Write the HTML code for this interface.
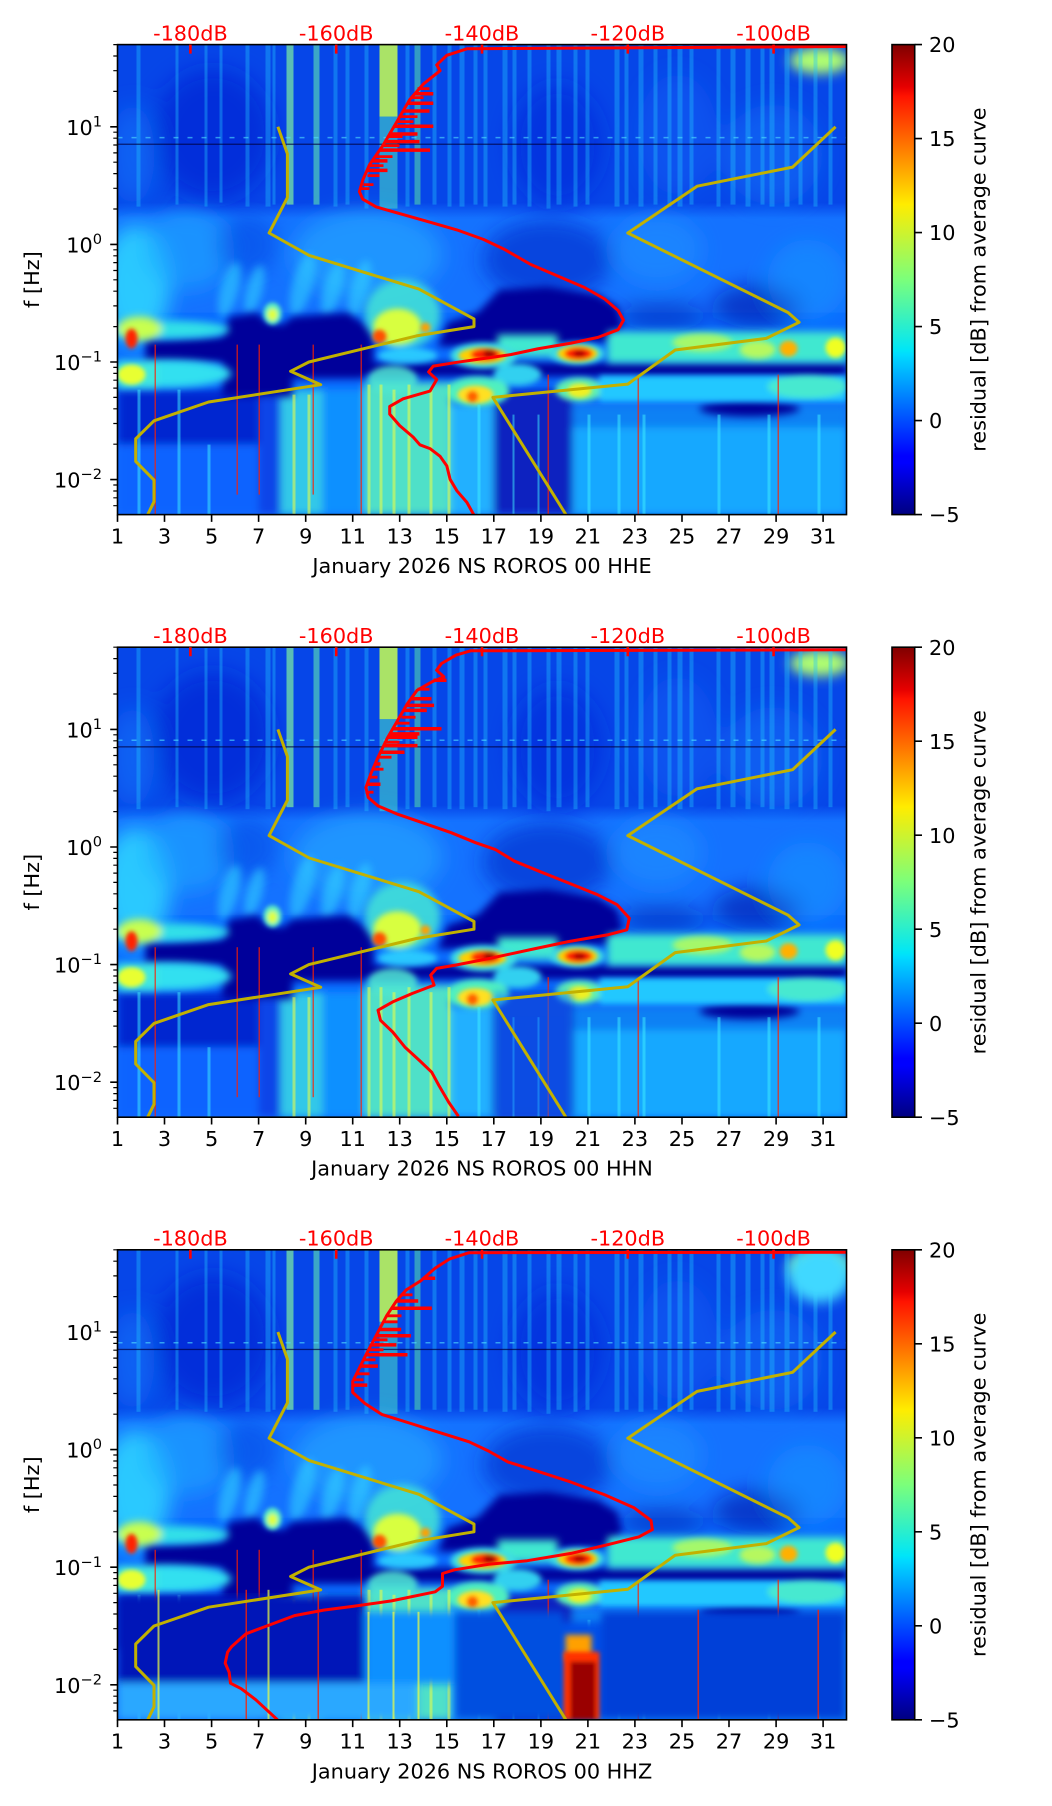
<!DOCTYPE html>
<html><head><meta charset="utf-8"><style>
html,body{margin:0;padding:0;background:#fff;}
svg{display:block;font-family:"DejaVu Sans","Liberation Sans",sans-serif;}
</style></head><body>
<svg width="1052" height="1806" viewBox="0 0 1052 1806" xmlns="http://www.w3.org/2000/svg">
<defs>
<filter id="b2" x="-50%" y="-50%" width="200%" height="200%"><feGaussianBlur stdDeviation="2"/></filter>
<filter id="b3" x="-50%" y="-50%" width="200%" height="200%"><feGaussianBlur stdDeviation="3"/></filter>
<filter id="b4" x="-50%" y="-50%" width="200%" height="200%"><feGaussianBlur stdDeviation="4"/></filter>
<filter id="b6" x="-50%" y="-50%" width="200%" height="200%"><feGaussianBlur stdDeviation="6"/></filter>
<filter id="b10" x="-50%" y="-50%" width="200%" height="200%"><feGaussianBlur stdDeviation="10"/></filter>
<filter id="b12" x="-50%" y="-50%" width="200%" height="200%"><feGaussianBlur stdDeviation="12"/></filter>
<linearGradient id="jet" x1="0" y1="0" x2="0" y2="1">
<stop offset="0" stop-color="#800000"/><stop offset="0.09" stop-color="#e60000"/><stop offset="0.11" stop-color="#ff1300"/>
<stop offset="0.34" stop-color="#ffec00"/><stop offset="0.5" stop-color="#7bff7b"/><stop offset="0.65" stop-color="#00e6f7"/>
<stop offset="0.66" stop-color="#00dbff"/><stop offset="0.875" stop-color="#0000ff"/><stop offset="0.89" stop-color="#0000ff"/>
<stop offset="1" stop-color="#000080"/>
</linearGradient>
<linearGradient id="trans" x1="0" y1="0" x2="0" y2="1">
<stop offset="0" stop-color="#0646e8"/><stop offset="1" stop-color="#1472ff"/>
</linearGradient>
<clipPath id="pc"><rect x="0" y="0" width="729" height="470"/></clipPath>

<g id="base">
<rect width="729" height="470" fill="#0a6cff"/>
<rect width="729" height="160" fill="#0646e8"/>
<rect y="158" width="729" height="16" fill="url(#trans)"/>
<rect y="174" width="729" height="94" fill="#1472ff"/>
<g filter="url(#b12)">
<ellipse cx="95" cy="90" rx="60" ry="65" fill="#0020d0" opacity=".6"/>
<ellipse cx="440" cy="100" rx="45" ry="60" fill="#0024d8" opacity=".5"/>
<ellipse cx="15" cy="110" rx="22" ry="50" fill="#1a80ff" opacity=".5"/>
<ellipse cx="560" cy="90" rx="40" ry="60" fill="#1a70ff" opacity=".3"/>
<ellipse cx="655" cy="110" rx="50" ry="50" fill="#1a80ff" opacity=".4"/>
</g>
<ellipse cx="702" cy="16" rx="30" ry="13" fill="#b0ff70" filter="url(#b6)"/>
<g fill="#22c4ff" opacity=".38">
<rect x="19" width="4" height="162"/><rect x="58" width="3" height="160"/><rect x="87" width="3" height="162"/>
<rect x="102" width="3" height="158"/><rect x="128" width="4" height="162"/><rect x="148" width="5" height="162"/>
<rect x="155" width="3" height="160"/><rect x="216" width="4" height="162"/><rect x="228" width="4" height="160"/>
<rect x="247" width="4" height="164"/><rect x="288" width="4" height="162"/><rect x="315" width="4" height="160"/>
<rect x="330" width="4" height="162"/><rect x="342" width="5" height="162"/><rect x="356" width="4" height="160"/>
<rect x="366" width="4" height="162"/><rect x="385" width="5" height="162"/><rect x="395" width="4" height="160"/>
<rect x="410" width="4" height="162"/><rect x="429" width="4" height="164"/><rect x="439" width="5" height="160"/>
<rect x="456" width="4" height="162"/><rect x="468" width="4" height="160"/><rect x="497" width="5" height="162"/>
<rect x="507" width="4" height="160"/><rect x="521" width="5" height="162"/><rect x="536" width="4" height="160"/>
<rect x="550" width="4" height="162"/><rect x="560" width="5" height="162"/><rect x="572" width="4" height="160"/>
<rect x="599" width="4" height="162"/><rect x="613" width="5" height="160"/><rect x="628" width="5" height="162"/>
<rect x="643" width="4" height="160"/><rect x="652" width="5" height="162"/><rect x="667" width="5" height="162"/>
<rect x="681" width="4" height="160"/><rect x="696" width="4" height="162"/><rect x="711" width="4" height="160"/>
</g>
<rect x="169" width="7" height="160" fill="#80f0a0" opacity=".7"/>
<rect x="196" width="6" height="160" fill="#60e8b0" opacity=".6"/>
<rect x="297" width="6" height="160" fill="#60f0a0" opacity=".5"/>
<rect x="262" width="18" height="72" fill="#c8ff50" opacity=".85"/>
<rect x="262" y="72" width="18" height="92" fill="#50f0c0" opacity=".5"/>
<rect y="99" width="729" height="1.3" fill="#000040" opacity=".7"/>
<line x1="0" y1="93" x2="729" y2="93" stroke="#50e0ff" stroke-width="1.5" stroke-dasharray="5 9" opacity=".6"/>
<g filter="url(#b10)">
<ellipse cx="18" cy="240" rx="35" ry="60" fill="#30d8ff" opacity=".85"/>
<ellipse cx="70" cy="205" rx="45" ry="40" fill="#20a8ff" opacity=".6"/>
<ellipse cx="250" cy="210" rx="75" ry="45" fill="#28b8ff" opacity=".5"/>
<ellipse cx="130" cy="200" rx="30" ry="30" fill="#0a40e0" opacity=".5"/>
<ellipse cx="430" cy="215" rx="65" ry="40" fill="#0028c8" opacity=".6"/>
<ellipse cx="540" cy="205" rx="45" ry="35" fill="#2098ff" opacity=".45"/>
<ellipse cx="640" cy="262" rx="45" ry="22" fill="#0010a8" opacity=".6"/>
<ellipse cx="545" cy="272" rx="45" ry="14" fill="#0010a8" opacity=".5"/>
<ellipse cx="690" cy="235" rx="40" ry="40" fill="#1898ff" opacity=".5"/>
</g>
<g filter="url(#b4)" fill="#30d0ff" opacity=".6">
<ellipse cx="112" cy="245" rx="9" ry="28" transform="rotate(15 112 245)"/>
<ellipse cx="137" cy="245" rx="8" ry="25" transform="rotate(15 137 245)"/>
<ellipse cx="185" cy="240" rx="10" ry="32" transform="rotate(15 185 240)"/>
<ellipse cx="215" cy="245" rx="9" ry="28" transform="rotate(15 215 245)"/>
<ellipse cx="242" cy="245" rx="9" ry="30" transform="rotate(15 242 245)"/>
</g>
<g filter="url(#b4)">
<rect x="0" y="345" width="141" height="55" fill="#0028d0"/>
<rect x="0" y="400" width="163" height="70" fill="#0a64ff"/>
<rect x="141" y="352" width="22" height="118" fill="#0844e8"/>
<rect x="163" y="345" width="42" height="125" fill="#30c8e8"/>
<rect x="205" y="345" width="42" height="125" fill="#1090ff"/>
<rect x="247" y="338" width="86" height="132" fill="#50e0c8"/>
<rect x="333" y="360" width="43" height="110" fill="#20b0ff"/>
<rect x="376" y="345" width="79" height="125" fill="#0820c0"/>
<rect x="455" y="362" width="274" height="108" fill="#14a8ff"/>
<rect x="455" y="358" width="274" height="25" fill="#0a70f0" opacity=".7"/>
</g>
<g filter="url(#b4)" fill="#00049a">
<path d="M28,296 L105,292 L112,272 L140,268 L150,278 L165,280 L175,272 L230,268 L256,285 L256,318 L28,318Z"/>
<path d="M320,302 L330,278 L360,268 L382,245 L430,242 L480,250 L500,262 L505,282 L490,297 L420,301Z"/>
<rect x="240" y="318" width="489" height="14"/>
<rect x="105" y="312" width="70" height="40"/>
<rect x="175" y="312" width="70" height="22"/>
<ellipse cx="632" cy="364" rx="50" ry="8"/>
</g>
<g filter="url(#b4)">
<ellipse cx="50" cy="285" rx="62" ry="9" fill="#30e0e8"/>
<ellipse cx="22" cy="284" rx="22" ry="12" fill="#c8ff50"/>
<ellipse cx="285" cy="270" rx="38" ry="35" fill="#40e0d8" opacity=".9"/>
<rect x="490" y="287" width="239" height="31" fill="#40e8d0"/>
<rect x="380" y="290" width="60" height="22" fill="#40e8d0"/>
<ellipse cx="48" cy="329" rx="66" ry="14" fill="#30e0f0"/>
<rect x="0" y="316" width="40" height="28" fill="#40e8e0"/>
</g>
<g filter="url(#b3)">
<ellipse cx="280" cy="282" rx="24" ry="18" fill="#d8ff40"/>
<ellipse cx="585" cy="298" rx="30" ry="9" fill="#d0ff40" opacity=".7"/>
<ellipse cx="640" cy="305" rx="18" ry="9" fill="#e8ff30" opacity=".7"/>
<ellipse cx="290" cy="311" rx="30" ry="8" fill="#30d8ff" opacity=".85"/>
<ellipse cx="275" cy="335" rx="25" ry="14" fill="#50e8d0" opacity=".85"/>
<ellipse cx="366" cy="311" rx="33" ry="13" fill="#40e0e0"/>
<ellipse cx="400" cy="330" rx="24" ry="11" fill="#30d0f0"/>
<ellipse cx="460" cy="309" rx="27" ry="11" fill="#40e0e0"/>
<ellipse cx="360" cy="347" rx="32" ry="15" fill="#50f0c0"/>
<ellipse cx="462" cy="345" rx="24" ry="12" fill="#60f0b0"/>
<rect x="482" y="331" width="247" height="26" fill="#20c8ff"/>
<ellipse cx="690" cy="342" rx="40" ry="12" fill="#60ffb0" opacity=".6"/>
</g>
<g filter="url(#b2)">
<ellipse cx="14" cy="294" rx="6" ry="10" fill="#ff2000"/>
<ellipse cx="155" cy="269" rx="9" ry="11" fill="#60f0c0"/>
<ellipse cx="155" cy="270" rx="5" ry="6" fill="#e0ff40"/>
<ellipse cx="262" cy="292" rx="7" ry="7" fill="#ff5000"/>
<ellipse cx="308" cy="283" rx="5" ry="5" fill="#ffa000"/>
<ellipse cx="671" cy="304" rx="9" ry="8" fill="#ffb000"/>
<ellipse cx="718" cy="303" rx="10" ry="10" fill="#f0ff20"/>
<ellipse cx="14" cy="330" rx="14" ry="10" fill="#e8ff30"/>
<ellipse cx="365" cy="311" rx="24" ry="8" fill="#ffd000"/>
<ellipse cx="368" cy="310" rx="15" ry="6" fill="#ff2000"/>
<ellipse cx="372" cy="309" rx="6" ry="4" fill="#a00000"/>
<ellipse cx="460" cy="309" rx="20" ry="8" fill="#ffd000"/>
<ellipse cx="461" cy="309" rx="14" ry="6" fill="#ff2000"/>
<ellipse cx="462" cy="309" rx="6" ry="3" fill="#a00000"/>
<ellipse cx="358" cy="350" rx="18" ry="9" fill="#ffe020"/>
<ellipse cx="355" cy="352" rx="6" ry="6" fill="#ff6000"/>
<ellipse cx="462" cy="346" rx="12" ry="7" fill="#f0f020"/>
</g>
<g fill="#f0ff40" opacity=".55">
<rect x="250" y="340" width="3" height="130"/><rect x="262" y="340" width="3" height="130"/><rect x="275" y="345" width="3" height="125"/>
<rect x="290" y="340" width="3" height="130"/><rect x="312" y="345" width="3" height="125"/><rect x="330" y="340" width="3" height="130"/>
<rect x="175" y="350" width="3" height="120"/><rect x="190" y="350" width="3" height="120"/>
</g>
<g fill="#40f0ff" opacity=".5">
<rect x="360" y="360" width="3" height="110"/><rect x="395" y="370" width="2" height="100"/><rect x="420" y="370" width="2" height="100"/>
<rect x="470" y="370" width="3" height="100"/><rect x="500" y="370" width="3" height="100"/><rect x="525" y="370" width="3" height="100"/>
<rect x="20" y="345" width="3" height="125"/><rect x="60" y="345" width="3" height="125"/><rect x="90" y="400" width="3" height="70"/>
<rect x="600" y="370" width="3" height="100"/><rect x="650" y="370" width="3" height="100"/><rect x="700" y="370" width="3" height="100"/>
</g>
<g fill="#ff2000" opacity=".7">
<rect x="37" y="300" width="1.5" height="170"/><rect x="119" y="300" width="1.5" height="150"/><rect x="141" y="300" width="1.5" height="150"/>
<rect x="195" y="300" width="1.5" height="150"/><rect x="243" y="300" width="1.5" height="170"/><rect x="430" y="330" width="1.5" height="140"/>
<rect x="520" y="330" width="1.5" height="140"/><rect x="660" y="330" width="1.5" height="140"/>
</g>
</g>

<g id="yel" fill="none" stroke="#c2b100" stroke-width="3" stroke-linejoin="round">
<polyline points="160.4,82.2 169.9,109.3 169.9,153 151.6,188.4 191.7,210.8 301.4,244.5 356.5,274.3 356.5,282 298.9,291.3 191.4,317.4 173.1,326.7 203.2,340.1 91.1,357.4 36.5,376.2 18.2,394.2 18.2,416.8 36.5,435.5 36.5,457.1 30.2,470"/>
<polyline points="718.1,82.2 675.1,122.5 579.6,141.6 510.3,188.4 670.7,268 681.6,277.7 648.8,293.8 557.7,305.4 510.3,339.5 375.4,352.8 448.4,470"/>
</g>

<g id="axes">
<rect x="0" y="0" width="729" height="470" fill="none" stroke="#000" stroke-width="1.6"/>
<g stroke="#000" stroke-width="1.6">
<path d="M-7.3,82.2H0M-7.3,199.8H0M-7.3,317.4H0M-7.3,435H0"/>
<path d="M0,470v7.3M47,470v7.3M94.1,470v7.3M141.1,470v7.3M188.2,470v7.3M235.2,470v7.3M282.2,470v7.3M329.3,470v7.3M376.3,470v7.3M423.4,470v7.3M470.4,470v7.3M517.4,470v7.3M564.5,470v7.3M611.5,470v7.3M658.6,470v7.3M705.6,470v7.3"/>
</g>
<path stroke="#000" stroke-width="1.2" d="M-4.2,0H0M-4.2,11.4H0M-4.2,26.1H0M-4.2,46.8H0M-4.2,87.6H0M-4.2,93.6H0M-4.2,100.4H0M-4.2,108.3H0M-4.2,117.6H0M-4.2,129H0M-4.2,143.7H0M-4.2,164.4H0M-4.2,205.2H0M-4.2,211.2H0M-4.2,218H0M-4.2,225.9H0M-4.2,235.2H0M-4.2,246.6H0M-4.2,261.3H0M-4.2,282H0M-4.2,322.8H0M-4.2,328.8H0M-4.2,335.6H0M-4.2,343.5H0M-4.2,352.8H0M-4.2,364.2H0M-4.2,378.9H0M-4.2,399.6H0M-4.2,440.4H0M-4.2,446.4H0M-4.2,453.2H0M-4.2,461.1H0"/>
<path stroke="#ff0000" stroke-width="2.6" d="M72.9,0v9M218.7,0v9M364.5,0v9M510.3,0v9M656.1,0v9"/>
<g font-size="20.8" fill="#ff0000" text-anchor="middle">
<text x="72.9" y="-4.2">-180dB</text><text x="218.7" y="-4.2">-160dB</text><text x="364.5" y="-4.2">-140dB</text><text x="510.3" y="-4.2">-120dB</text><text x="656.1" y="-4.2">-100dB</text>
</g>
<g font-size="20.8" fill="#000" text-anchor="end">
<text x="-15.5" y="90.2">10<tspan dy="-8.4" font-size="14.6">1</tspan></text>
<text x="-15.5" y="207.8">10<tspan dy="-8.4" font-size="14.6">0</tspan></text>
<text x="-15.5" y="325.4">10<tspan dy="-8.4" font-size="14.6">−1</tspan></text>
<text x="-15.5" y="443">10<tspan dy="-8.4" font-size="14.6">−2</tspan></text>
</g>
<g font-size="20.8" fill="#000" text-anchor="middle">
<text x="0" y="498.8">1</text><text x="47" y="498.8">3</text><text x="94.1" y="498.8">5</text><text x="141.1" y="498.8">7</text>
<text x="188.2" y="498.8">9</text><text x="235.2" y="498.8">11</text><text x="282.2" y="498.8">13</text><text x="329.3" y="498.8">15</text>
<text x="376.3" y="498.8">17</text><text x="423.4" y="498.8">19</text><text x="470.4" y="498.8">21</text><text x="517.4" y="498.8">23</text>
<text x="564.5" y="498.8">25</text><text x="611.5" y="498.8">27</text><text x="658.6" y="498.8">29</text><text x="705.6" y="498.8">31</text>
</g>
<text font-size="20.8" text-anchor="middle" transform="translate(-78.5,235) rotate(-90)">f [Hz]</text>
<rect x="774.5" y="0" width="22.7" height="470" fill="url(#jet)" stroke="#000" stroke-width="1.6"/>
<path stroke="#000" stroke-width="1.6" d="M797.2,0h7.3M797.2,94h7.3M797.2,188h7.3M797.2,282h7.3M797.2,376h7.3M797.2,470h7.3"/>
<g font-size="20.8" fill="#000">
<text x="811.5" y="7.6">20</text><text x="811.5" y="101.6">15</text><text x="811.5" y="195.6">10</text>
<text x="811.5" y="289.6">5</text><text x="811.5" y="383.6">0</text><text x="811.5" y="477.6">−5</text>
</g>
<text font-size="20.8" text-anchor="middle" transform="translate(867.8,235) rotate(-90)">residual [dB] from average curve</text>
</g>
</defs>

<rect width="1052" height="1806" fill="#fff"/>

<!-- Panel 1 HHE -->
<g transform="translate(117.5,44.6)">
<g clip-path="url(#pc)">
<use href="#base"/>
<use href="#yel"/>
<g fill="none" stroke="#ff0000" stroke-width="3" stroke-linejoin="round">
<polyline points="729,1.9 349.4,4.2 329.3,10.7 319.2,20.3 322.6,26.1 305.8,39.5 292.3,54.9 278.9,77.9 265.4,100.9 252,120.1 245.3,135.4 241.9,147 245.3,154.6 258.7,162.3 285.6,170 312.5,177.6 339.4,185.3 366.2,194.9 386.4,204.5 413.3,219.9 440.2,231.4 467,242.9 487.2,254.4 500.6,265.9 506,275.5 500.6,285.1 480.5,292.8 453.6,298.5 420,304.3 393.1,310 366.2,313.9 339.4,317.7 315.8,321.5 311.1,327.3 319.2,335 312.5,346.5 285.6,354.2 272.2,361.8 272.2,369.5 282.2,381 295.7,392.5 302.4,400.2 312.5,404 322.6,411.7 329.3,421.3 332.6,434.7 339.4,446.2 349.4,457.8 356.2,470"/>
<path stroke-width="3.5" d="M297.5,49.1H315.8M289.5,58.7H315.8M286,66.4H312M276.6,81.7H315.8M272,89.4H300M267.5,97H302M262.4,105.5H312.5M254.6,116.3H270M249.8,125.8H270"/>
<path stroke-width="2.8" d="M300,44H312M293,53H306M283,72H300M279,77H296M270,92H285M265,101H282M258,112H275M252,121H266M250,131H262M246,140H256M244,144H252"/>
</g>
</g>
<use href="#axes"/>
<text x="364.5" y="528.5" font-size="20.8" text-anchor="middle">January 2026 NS ROROS 00 HHE</text>
</g>

<!-- Panel 2 HHN -->
<g transform="translate(117.5,647.2)">
<g clip-path="url(#pc)">
<use href="#base"/>
<rect x="376" y="345" width="79" height="125" fill="#0a70ff" opacity=".55" filter="url(#b4)"/>
<use href="#yel"/>
<g fill="none" stroke="#ff0000" stroke-width="3" stroke-linejoin="round">
<polyline points="729,2.5 353.2,3.6 338.6,7.9 324,16.3 319.1,23 326.4,29.7 314.2,34.7 299.6,43.1 289.8,56.5 280.1,73.3 270.3,90 260.5,110.1 253.2,126.9 248.4,140.3 250.8,150.3 260.5,158.7 280.1,167 304.5,175.4 333.7,185.5 358.1,195.5 377.6,202.2 397.1,214 421.5,224 450.8,235.7 480,247.5 499.6,257.5 511.8,270.9 509.3,282.6 489.8,287.7 450.8,294.4 411.8,302.7 372.7,311.1 338.6,317.8 319.1,321.2 313.2,327.9 316.6,337.9 294.7,346.3 275.2,354.7 260.5,363 263,373.1 275.2,384.8 287.4,399.9 302,413.3 314.2,425 321.5,438.4 331.3,455.2 341,469.2"/>
<path stroke-width="3.5" d="M316,33H329M293,51.5H314M288.8,58.2H316.6M285.5,63.2H309.3M275,81.6H324M272,86.7H302M270.3,90H300M266,98.4H300M263,105H287M257.5,116.8H263M249.6,137H263"/>
<path stroke-width="2.8" d="M300,42H312M284,70H298M278,76H292M268,95H282M260,110H274M255,122H266M251,130H260M248,145H256"/>
</g>
</g>
<use href="#axes"/>
<text x="364.5" y="528.5" font-size="20.8" text-anchor="middle">January 2026 NS ROROS 00 HHN</text>
</g>

<!-- Panel 3 HHZ -->
<g transform="translate(117.5,1249.8)">
<g clip-path="url(#pc)">
<use href="#base"/>
<ellipse cx="702" cy="25" rx="32" ry="28" fill="#40d8ff" filter="url(#b6)"/>
<g filter="url(#b4)">
<rect x="0" y="346" width="247" height="88" fill="#0018b8"/>
<rect x="0" y="433" width="300" height="37" fill="#2aa8ff"/>
<rect x="247" y="362" width="90" height="72" fill="#1090ff"/>
<rect x="337" y="362" width="109" height="108" fill="#0050e0"/>
<rect x="484" y="362" width="245" height="108" fill="#0040d8"/>
<rect x="446" y="372" width="38" height="98" fill="#0050e8"/>
</g>
<g filter="url(#b3)">
<rect x="448" y="385" width="26" height="26" fill="#ffa000"/>
</g>
<g filter="url(#b2)">
<rect x="446" y="402" width="36" height="68" fill="#ff3000"/>
<rect x="453" y="412" width="25" height="58" fill="#9a0000"/>
</g>
<g fill="#f0ff40" opacity=".7">
<rect x="250" y="362" width="2" height="108"/><rect x="275" y="362" width="2" height="108"/><rect x="300" y="362" width="2" height="108"/>
<rect x="40" y="340" width="2" height="130"/><rect x="150" y="340" width="2" height="130"/>
</g>
<g fill="#ff2000" opacity=".8">
<rect x="128" y="340" width="1.5" height="130"/><rect x="200" y="340" width="1.5" height="130"/><rect x="580" y="360" width="1.5" height="110"/><rect x="700" y="360" width="1.5" height="110"/>
</g>
<use href="#yel"/>
<g fill="none" stroke="#ff0000" stroke-width="3" stroke-linejoin="round">
<polyline points="729,2.5 351.6,2.9 332.2,9.1 317.7,18.3 303.1,31.1 288.6,40.2 278.9,51.2 269.2,65.8 259.5,84.1 249.8,102.4 242.5,117 235.2,131.7 235.2,142.6 247.3,153.6 264.3,164.6 293.4,173.7 322.5,182.9 351.6,192 371,201.2 390.4,212.1 419.5,221.3 453.5,232.3 487.4,245.1 516.5,257.9 533.5,270.7 534.9,279.8 521.3,287.1 492.2,294.4 453.5,303.6 409.8,310.9 371,314.5 337,320 325,323.7 325,336.5 317.7,342 274,351.1 235.2,356.6 206.1,360.3 177,365.8 147.9,376.7 128.5,384 114,396.9 110.1,402.3 107.7,413.3 111.6,422.4 113,433.4 123.7,438.9 138.2,449.9 160,470"/>
<path stroke-width="3.5" d="M306,28.5H317.7M278.9,51.2H300.7M274,58.5H314.3M261.8,79.7H283.7M258.5,86H293.4M254.5,95.1H278.9M248.7,105H290M243,116.3H260.4M235.2,135.3H249.8"/>
<path stroke-width="2.8" d="M283,45H295M270,66H284M266,72H280M256,90H270M252,100H266M246,110H258M240,124H252M237,130H246"/>
</g>
</g>
<use href="#axes"/>
<text x="364.5" y="528.5" font-size="20.8" text-anchor="middle">January 2026 NS ROROS 00 HHZ</text>
</g>
</svg>
</body></html>
